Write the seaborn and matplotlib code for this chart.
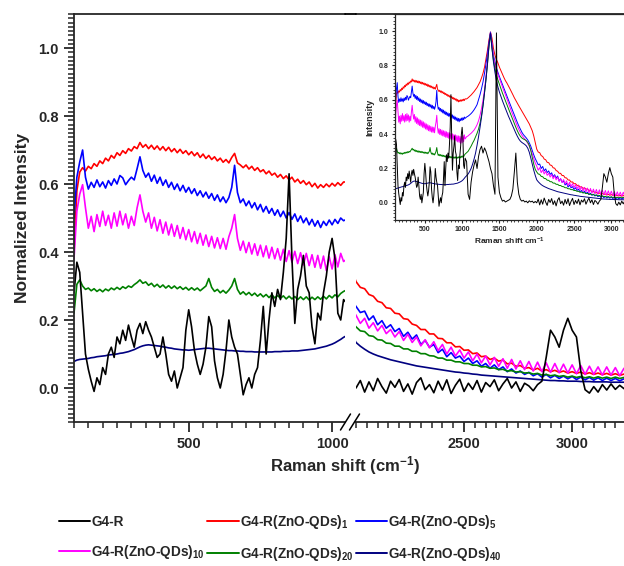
import numpy as np
import pandas as pd
import seaborn as sns
import matplotlib.pyplot as plt
from matplotlib.lines import Line2D
from matplotlib.ticker import MultipleLocator, FixedLocator, FormatStrFormatter

# wavenumber grids (cm-1): fine below the break, coarser above
wn_left = np.arange(100, 1041, 10)
wn_mid = np.arange(1060, 1981, 20)
wn_right = np.arange(2000, 3241, 20)

# ---- G4-R (black)
g4r_left = [0.28, 0.37, 0.34, 0.22, 0.10, 0.055, 0.02, -0.01, 0.03, 0.01,
            0.06, 0.04, 0.10, 0.12, 0.09, 0.15, 0.13, 0.17, 0.14, 0.185,
            0.15, 0.12, 0.17, 0.19, 0.16, 0.195, 0.17, 0.15, 0.12, 0.09,
            0.10, 0.15, 0.10, 0.04, 0.02, 0.05, 0.00, 0.03, 0.06, 0.17,
            0.23, 0.18, 0.11, 0.07, 0.04, 0.07, 0.12, 0.21, 0.18, 0.08,
            0.03, 0.00, 0.04, 0.11, 0.20, 0.15, 0.12, 0.10, 0.04, -0.02,
            0.01, 0.03, 0.00, 0.04, 0.06, 0.14, 0.24, 0.10, 0.20, 0.28,
            0.24, 0.29, 0.26, 0.34, 0.44, 0.63, 0.38, 0.19, 0.29, 0.33,
            0.39, 0.30, 0.28, 0.18, 0.13, 0.22, 0.20, 0.28, 0.33, 0.40,
            0.44, 0.38, 0.22, 0.20, 0.26]
g4r_mid = [0.24, 0.05, 0.02, 0.12, 0.18, 0.22, 0.25, 0.20, 0.27, 0.31,
           0.33, 0.29, 0.32, 0.30, 0.27, 0.24, 0.20, 0.17, 0.10, 0.05,
           0.99, 0.15, 0.06, 0.03, 0.01, 0.015, 0.005, 0.01, 0.015, 0.02,
           0.04, 0.08, 0.18, 0.29, 0.12, 0.05, 0.02, 0.01, 0.015, 0.005,
           0.01, 0.0, 0.012, 0.005, 0.01, 0.0, 0.008]
g4r_right = [0.000, 0.022, -0.012, 0.018, -0.008, 0.028, 0.004, -0.015, 0.020, 0.002,
             0.025, -0.010, 0.012, -0.018, 0.016, 0.030, -0.005, 0.010, -0.014, 0.020,
             -0.006, 0.024, -0.016, 0.008, 0.026, -0.010, 0.014, -0.004, 0.022, -0.012,
             0.016, 0.004, 0.024, -0.008, 0.012, 0.028, 0.000, 0.018, -0.010, 0.014,
             0.006, -0.008, 0.010, 0.020, 0.090, 0.170, 0.150, 0.120, 0.170, 0.205,
             0.170, 0.150, 0.050, -0.005, -0.015, 0.004, -0.012, 0.010, -0.006, 0.012,
             -0.004, 0.008, -0.002]

# ---- G4-R(ZnO-QDs)1 (red)
qd1_left = [0.40, 0.58, 0.635, 0.648, 0.638, 0.652, 0.645, 0.660, 0.652, 0.668,
            0.660, 0.676, 0.668, 0.684, 0.676, 0.692, 0.684, 0.698, 0.690, 0.704,
            0.697, 0.710, 0.704, 0.722, 0.708, 0.716, 0.704, 0.714, 0.702, 0.712,
            0.700, 0.710, 0.698, 0.708, 0.695, 0.704, 0.692, 0.702, 0.690, 0.698,
            0.686, 0.695, 0.683, 0.692, 0.678, 0.688, 0.675, 0.684, 0.672, 0.680,
            0.668, 0.676, 0.664, 0.672, 0.662, 0.678, 0.690, 0.662, 0.656, 0.648,
            0.656, 0.644, 0.652, 0.640, 0.648, 0.636, 0.642, 0.630, 0.638, 0.626,
            0.632, 0.620, 0.628, 0.616, 0.624, 0.612, 0.620, 0.606, 0.614, 0.602,
            0.610, 0.598, 0.606, 0.592, 0.602, 0.588, 0.598, 0.590, 0.600, 0.592,
            0.602, 0.594, 0.604, 0.596, 0.606]
qd1_mid = [0.605, 0.612, 0.620, 0.628, 0.638, 0.648, 0.660, 0.672, 0.688, 0.705,
           0.728, 0.755, 0.790, 0.840, 0.890, 0.950, 0.995, 0.960, 0.900, 0.860,
           0.835, 0.815, 0.790, 0.770, 0.750, 0.730, 0.712, 0.698, 0.682, 0.665,
           0.648, 0.630, 0.612, 0.596, 0.580, 0.565, 0.550, 0.535, 0.520, 0.505,
           0.490, 0.475, 0.460, 0.440, 0.420, 0.390, 0.350]
qd1_right = [0.313, 0.296, 0.292, 0.275, 0.270, 0.255, 0.251, 0.236, 0.234, 0.220,
             0.218, 0.204, 0.202, 0.188, 0.184, 0.172, 0.172, 0.159, 0.159, 0.146,
             0.145, 0.133, 0.133, 0.121, 0.122, 0.111, 0.112, 0.101, 0.103, 0.092,
             0.094, 0.084, 0.088, 0.079, 0.082, 0.071, 0.073, 0.064, 0.066, 0.058,
             0.060, 0.053, 0.058, 0.050, 0.054, 0.048, 0.052, 0.046, 0.050, 0.044,
             0.048, 0.043, 0.047, 0.041, 0.045, 0.040, 0.044, 0.039, 0.043, 0.038,
             0.042, 0.037, 0.041]

# ---- G4-R(ZnO-QDs)5 (blue)
qd5_left = [0.50, 0.62, 0.665, 0.700, 0.620, 0.585, 0.605, 0.590, 0.612, 0.592,
            0.606, 0.588, 0.610, 0.596, 0.615, 0.600, 0.625, 0.618, 0.598, 0.610,
            0.620, 0.612, 0.645, 0.680, 0.640, 0.620, 0.632, 0.608, 0.626, 0.602,
            0.620, 0.596, 0.612, 0.590, 0.605, 0.584, 0.600, 0.580, 0.596, 0.576,
            0.590, 0.572, 0.586, 0.566, 0.580, 0.562, 0.576, 0.558, 0.572, 0.552,
            0.568, 0.548, 0.562, 0.545, 0.560, 0.590, 0.655, 0.575, 0.545, 0.556,
            0.536, 0.550, 0.530, 0.545, 0.524, 0.540, 0.518, 0.534, 0.514, 0.528,
            0.508, 0.524, 0.504, 0.520, 0.500, 0.516, 0.496, 0.512, 0.490, 0.506,
            0.486, 0.500, 0.480, 0.496, 0.476, 0.492, 0.472, 0.490, 0.478, 0.494,
            0.480, 0.496, 0.484, 0.500, 0.492]
qd5_mid = [0.500, 0.505, 0.512, 0.520, 0.530, 0.542, 0.556, 0.572, 0.600, 0.630,
           0.665, 0.705, 0.755, 0.810, 0.870, 0.935, 0.995, 0.930, 0.860, 0.820,
           0.785, 0.760, 0.735, 0.712, 0.690, 0.668, 0.645, 0.622, 0.600, 0.578,
           0.556, 0.534, 0.512, 0.490, 0.468, 0.448, 0.430, 0.412, 0.398, 0.388,
           0.378, 0.366, 0.350, 0.330, 0.305, 0.280, 0.258]
qd5_right = [0.240, 0.222, 0.226, 0.200, 0.212, 0.186, 0.198, 0.176, 0.186, 0.166,
             0.175, 0.152, 0.164, 0.144, 0.156, 0.128, 0.140, 0.120, 0.128, 0.104,
             0.114, 0.092, 0.104, 0.088, 0.094, 0.078, 0.088, 0.072, 0.080, 0.064,
             0.072, 0.058, 0.068, 0.054, 0.062, 0.048, 0.056, 0.044, 0.050, 0.040,
             0.046, 0.036, 0.042, 0.032, 0.040, 0.030, 0.037, 0.028, 0.035, 0.027,
             0.034, 0.025, 0.032, 0.024, 0.031, 0.023, 0.030, 0.022, 0.029, 0.022,
             0.028, 0.021, 0.027]

# ---- G4-R(ZnO-QDs)10 (magenta)
qd10_left = [0.38, 0.52, 0.57, 0.598, 0.530, 0.470, 0.505, 0.460, 0.510, 0.475,
             0.520, 0.478, 0.508, 0.470, 0.515, 0.476, 0.520, 0.480, 0.512, 0.470,
             0.505, 0.478, 0.530, 0.568, 0.520, 0.488, 0.515, 0.470, 0.502, 0.462,
             0.495, 0.455, 0.488, 0.450, 0.482, 0.446, 0.478, 0.440, 0.472, 0.436,
             0.466, 0.430, 0.460, 0.425, 0.455, 0.420, 0.450, 0.416, 0.446, 0.412,
             0.442, 0.410, 0.440, 0.408, 0.445, 0.470, 0.510, 0.440, 0.405, 0.432,
             0.398, 0.428, 0.394, 0.424, 0.390, 0.420, 0.386, 0.418, 0.382, 0.414,
             0.380, 0.410, 0.376, 0.408, 0.372, 0.404, 0.370, 0.402, 0.366, 0.398,
             0.362, 0.396, 0.360, 0.392, 0.355, 0.390, 0.352, 0.388, 0.345, 0.386,
             0.350, 0.392, 0.356, 0.396, 0.372]
qd10_mid = [0.385, 0.390, 0.398, 0.405, 0.414, 0.424, 0.438, 0.455, 0.478, 0.510,
            0.550, 0.600, 0.660, 0.740, 0.830, 0.920, 0.990, 0.920, 0.850, 0.805,
            0.775, 0.748, 0.722, 0.700, 0.676, 0.652, 0.630, 0.606, 0.582, 0.558,
            0.534, 0.512, 0.490, 0.468, 0.446, 0.428, 0.410, 0.395, 0.382, 0.372,
            0.360, 0.346, 0.330, 0.310, 0.285, 0.258, 0.232]
qd10_right = [0.214, 0.190, 0.205, 0.176, 0.192, 0.168, 0.184, 0.160, 0.172, 0.150,
              0.166, 0.140, 0.158, 0.134, 0.150, 0.124, 0.142, 0.118, 0.136, 0.110,
              0.128, 0.100, 0.120, 0.094, 0.112, 0.088, 0.106, 0.080, 0.100, 0.074,
              0.094, 0.068, 0.090, 0.064, 0.086, 0.058, 0.084, 0.056, 0.080, 0.054,
              0.078, 0.050, 0.076, 0.048, 0.074, 0.046, 0.072, 0.045, 0.070, 0.044,
              0.068, 0.042, 0.066, 0.040, 0.064, 0.040, 0.062, 0.038, 0.062, 0.038,
              0.060, 0.036, 0.058]

# ---- G4-R(ZnO-QDs)20 (green)
qd20_left = [0.22, 0.305, 0.318, 0.300, 0.290, 0.294, 0.286, 0.292, 0.284, 0.290,
             0.283, 0.291, 0.286, 0.294, 0.289, 0.296, 0.290, 0.298, 0.293, 0.300,
             0.296, 0.304, 0.310, 0.318, 0.308, 0.312, 0.302, 0.308, 0.298, 0.305,
             0.296, 0.303, 0.294, 0.301, 0.293, 0.300, 0.292, 0.298, 0.290, 0.296,
             0.288, 0.295, 0.288, 0.294, 0.286, 0.293, 0.300, 0.322, 0.296, 0.284,
             0.290, 0.280, 0.287, 0.279, 0.288, 0.300, 0.322, 0.290, 0.276, 0.283,
             0.274, 0.281, 0.272, 0.279, 0.270, 0.277, 0.268, 0.275, 0.266, 0.274,
             0.265, 0.272, 0.264, 0.271, 0.262, 0.270, 0.262, 0.269, 0.260, 0.268,
             0.260, 0.268, 0.259, 0.267, 0.260, 0.268, 0.261, 0.270, 0.262, 0.272,
             0.265, 0.274, 0.268, 0.278, 0.284]
qd20_mid = [0.292, 0.300, 0.315, 0.330, 0.348, 0.364, 0.385, 0.405, 0.430, 0.465,
            0.510, 0.570, 0.640, 0.720, 0.810, 0.910, 0.985, 0.900, 0.830, 0.780,
            0.745, 0.715, 0.690, 0.665, 0.640, 0.618, 0.595, 0.572, 0.550, 0.528,
            0.506, 0.484, 0.462, 0.440, 0.420, 0.402, 0.388, 0.378, 0.372, 0.368,
            0.362, 0.352, 0.335, 0.305, 0.265, 0.225, 0.195]
qd20_right = [0.180, 0.168, 0.166, 0.154, 0.152, 0.142, 0.141, 0.132, 0.131, 0.123,
              0.123, 0.115, 0.115, 0.108, 0.108, 0.101, 0.101, 0.095, 0.094, 0.088,
              0.088, 0.082, 0.082, 0.077, 0.077, 0.072, 0.072, 0.067, 0.067, 0.062,
              0.063, 0.058, 0.059, 0.054, 0.055, 0.050, 0.051, 0.047, 0.048, 0.044,
              0.045, 0.041, 0.043, 0.038, 0.040, 0.036, 0.038, 0.034, 0.036, 0.032,
              0.035, 0.031, 0.034, 0.030, 0.033, 0.029, 0.033, 0.029, 0.032, 0.028,
              0.032, 0.028, 0.031]

# ---- G4-R(ZnO-QDs)40 (navy)
qd40_left = [0.078, 0.082, 0.084, 0.085, 0.086, 0.087, 0.089, 0.090, 0.092, 0.093,
             0.094, 0.095, 0.097, 0.098, 0.099, 0.100, 0.102, 0.103, 0.105, 0.107,
             0.110, 0.113, 0.117, 0.121, 0.124, 0.126, 0.127, 0.126, 0.125, 0.124,
             0.123, 0.121, 0.120, 0.118, 0.117, 0.115, 0.114, 0.113, 0.112, 0.112,
             0.111, 0.112, 0.113, 0.114, 0.115, 0.116, 0.117, 0.117, 0.116, 0.115,
             0.114, 0.113, 0.112, 0.111, 0.110, 0.110, 0.109, 0.109, 0.108, 0.108,
             0.107, 0.107, 0.107, 0.106, 0.106, 0.106, 0.106, 0.106, 0.106, 0.106,
             0.107, 0.107, 0.107, 0.108, 0.108, 0.108, 0.109, 0.109, 0.109, 0.110,
             0.111, 0.112, 0.113, 0.114, 0.115, 0.117, 0.119, 0.121, 0.123, 0.126,
             0.129, 0.133, 0.138, 0.143, 0.149]
qd40_mid = [0.158, 0.168, 0.182, 0.200, 0.225, 0.255, 0.290, 0.335, 0.385, 0.440,
            0.500, 0.565, 0.640, 0.720, 0.810, 0.920, 0.990, 0.900, 0.820, 0.760,
            0.710, 0.675, 0.645, 0.620, 0.595, 0.572, 0.550, 0.528, 0.506, 0.486,
            0.466, 0.446, 0.426, 0.406, 0.388, 0.372, 0.360, 0.352, 0.346, 0.340,
            0.332, 0.318, 0.295, 0.262, 0.225, 0.190, 0.160]
qd40_right = [0.134, 0.123, 0.114, 0.106, 0.100, 0.095, 0.091, 0.087, 0.083, 0.080,
              0.077, 0.074, 0.071, 0.068, 0.065, 0.063, 0.061, 0.059, 0.057, 0.055,
              0.053, 0.051, 0.049, 0.047, 0.046, 0.044, 0.043, 0.041, 0.040, 0.038,
              0.037, 0.036, 0.035, 0.034, 0.033, 0.032, 0.031, 0.030, 0.029, 0.028,
              0.027, 0.026, 0.025, 0.024, 0.023, 0.022, 0.022, 0.021, 0.021, 0.020,
              0.020, 0.020, 0.019, 0.019, 0.019, 0.018, 0.018, 0.018, 0.018, 0.017,
              0.017, 0.017, 0.017]

names = ["G4-R", "G4-R(ZnO-QDs)$_{1}$", "G4-R(ZnO-QDs)$_{5}$",
         "G4-R(ZnO-QDs)$_{10}$", "G4-R(ZnO-QDs)$_{20}$", "G4-R(ZnO-QDs)$_{40}$"]
colors = ["#000000", "#ff0000", "#0000ff", "#ff00ff", "#008000", "#000080"]
spectra = [(g4r_left, g4r_mid, g4r_right), (qd1_left, qd1_mid, qd1_right),
           (qd5_left, qd5_mid, qd5_right), (qd10_left, qd10_mid, qd10_right),
           (qd20_left, qd20_mid, qd20_right), (qd40_left, qd40_mid, qd40_right)]

wn = np.concatenate([wn_left, wn_mid, wn_right])
df = pd.concat([pd.DataFrame({"wn": wn, "I": np.concatenate(s), "sample": n})
                for n, s in zip(names, spectra)], ignore_index=True)
palette = dict(zip(names, colors))
draw_order = names[1:] + names[:1]   # black trace ends up on top

sns.set_style("ticks")
plt.rcParams["font.family"] = ["Liberation Sans", "DejaVu Sans"]
plt.rcParams["font.weight"] = "bold"
plt.rcParams["mathtext.fontset"] = "custom"
plt.rcParams["mathtext.rm"] = "Liberation Sans:bold"
plt.rcParams["mathtext.it"] = "Liberation Sans:bold"
plt.rcParams["mathtext.bf"] = "Liberation Sans:bold"
plt.rcParams["mathtext.default"] = "rm"

fig = plt.figure(figsize=(6.24, 5.66), dpi=100)
bottom, height = 1 - 422 / 566, 408 / 566
ax_l = fig.add_axes([74 / 624, bottom, 271 / 624, height])
ax_r = fig.add_axes([356 / 624, bottom, 1 - 356 / 624, height])
ax_in = fig.add_axes([395 / 624, 1 - 220 / 566, 1 - 395 / 624, 206 / 566])

for ax in (ax_l, ax_r):
    sns.lineplot(data=df, x="wn", y="I", hue="sample", hue_order=draw_order,
                 palette=palette, linewidth=1.2, estimator=None, sort=False,
                 legend=False, ax=ax)
    ax.set_ylim(-0.1, 1.1)
    ax.set_xlabel("")
    ax.set_ylabel("")
    for sp in ax.spines.values():
        sp.set_linewidth(1.3)
    ax.xaxis.set_minor_locator(MultipleLocator(50))
    ax.tick_params(which="major", direction="out", length=7, width=1.3,
                   labelsize=10.5, pad=4)
    ax.tick_params(which="minor", direction="out", length=4, width=1.1)

ax_l.set_xlim(100, 1045)
ax_l.xaxis.set_major_locator(FixedLocator([500, 1000]))
ax_l.yaxis.set_major_locator(MultipleLocator(0.2))
ax_l.yaxis.set_minor_locator(MultipleLocator(0.0125))
ax_l.yaxis.set_major_formatter(FormatStrFormatter("%.1f"))
ax_l.spines["right"].set_visible(False)
ax_l.set_ylabel("Normalized Intensity", fontsize=12.5, fontweight="bold", labelpad=6)

ax_r.set_xlim(2000, 3240)
ax_r.xaxis.set_major_locator(FixedLocator([2500, 3000]))
ax_r.spines["left"].set_visible(False)
ax_r.spines["right"].set_visible(False)
ax_r.tick_params(axis="y", which="both", left=False, labelleft=False)

# join the top frame across the gap and draw the // break marks
x0 = ax_l.get_position().x1
x1 = ax_r.get_position().x0
top = ax_l.get_position().y1
fig.add_artist(Line2D([x0, x1], [top, top], transform=fig.transFigure,
                      color="black", lw=1.3))
dx, dy = 5 / 624, 8 / 566
for xc in (x0 + 0.5 / 624, x1 - 1.5 / 624):
    fig.add_artist(Line2D([xc - dx, xc + dx], [bottom - dy, bottom + dy],
                          transform=fig.transFigure, color="black", lw=1.1))

fig.text(345 / 624, 1 - 466 / 566, "Raman shift (cm$^{-1}$)", ha="center",
         va="center", fontsize=12, fontweight="bold")

# inset: full spectrum
sns.lineplot(data=df, x="wn", y="I", hue="sample", hue_order=draw_order,
             palette=palette, linewidth=0.7, estimator=None, sort=False,
             legend=False, ax=ax_in)
ax_in.set_xlim(100, 3170)
ax_in.set_ylim(-0.1, 1.1)
ax_in.spines["right"].set_visible(False)
for sp in ax_in.spines.values():
    sp.set_linewidth(0.9)
ax_in.xaxis.set_major_locator(MultipleLocator(500))
ax_in.xaxis.set_minor_locator(MultipleLocator(50))
ax_in.yaxis.set_major_locator(MultipleLocator(0.2))
ax_in.yaxis.set_minor_locator(MultipleLocator(0.02))
ax_in.yaxis.set_major_formatter(FormatStrFormatter("%.1f"))
ax_in.tick_params(which="major", direction="out", length=2.5, width=0.8,
                  labelsize=5, pad=2)
ax_in.tick_params(which="minor", direction="out", length=1.5, width=0.6)
ax_in.set_xlabel("Raman shift cm$^{-1}$", fontsize=6, fontweight="bold", labelpad=2)
ax_in.set_ylabel("Intensity", fontsize=6.5, fontweight="bold", labelpad=3)

# legend below, filled column-wise so rows read G4-R, 1, 5 / 10, 20, 40
order = [0, 3, 1, 4, 2, 5]
handles = [Line2D([], [], color=colors[i], lw=1.4) for i in order]
labels = [names[i] for i in order]
fig.legend(handles, labels, ncol=3, loc="upper left",
           bbox_to_anchor=(52 / 624, 1 - 506 / 566), frameon=False,
           fontsize=9.8, handlelength=2.3, handletextpad=0.1,
           columnspacing=0.15, labelspacing=1.05, borderpad=0)

fig.savefig("out.png", dpi=100)
